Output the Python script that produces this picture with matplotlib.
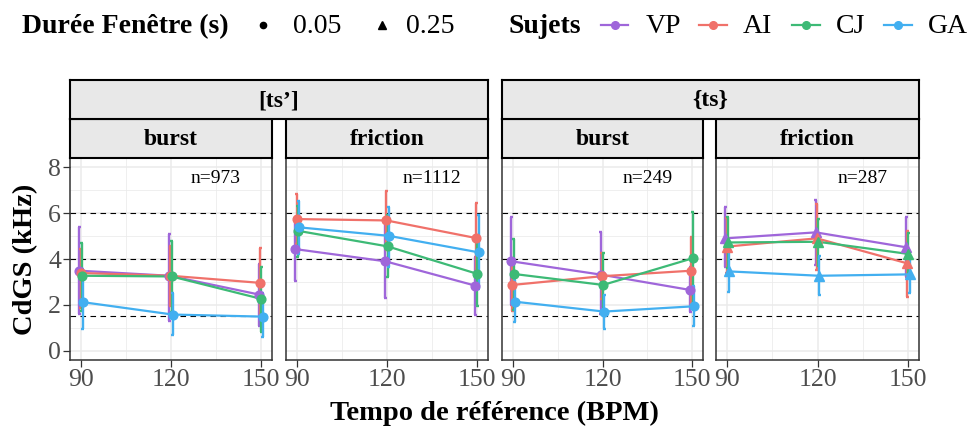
import matplotlib
matplotlib.use("Agg")
import matplotlib.pyplot as plt
from matplotlib.lines import Line2D

plt.rcParams['font.family'] = ['Liberation Serif', 'DejaVu Serif']

W, H = 973, 429

# ---------------- data ----------------
tempo = [90, 120, 150]
subjects = ["VP", "AI", "CJ", "GA"]
subject_colors = ["#9F66DA", "#F0716A", "#3DBA76", "#42AFF0"]
phonemes = ["[ts’]", "{ts}"]
positions = ["burst", "friction"]
n_labels = ["n=973", "n=1112", "n=249", "n=287"]
window_labels = ["0.05", "0.25"]
panel_window = ["0.05", "0.05", "0.05", "0.25"]
ref_lines = [1.5, 4, 6]
y_ticks = [0, 2, 4, 6, 8]

# rows: VP, AI, CJ, GA ; columns: 90, 120, 150 BPM
mean_tsp_burst = [[3.49, 3.27, 2.45], [3.39, 3.27, 2.96], [3.27, 3.24, 2.26], [2.12, 1.58, 1.49]]
high_tsp_burst = [[5.41, 5.09, 3.78], [4.45, 4.58, 4.46], [4.68, 4.80, 3.64], [3.55, 2.52, 2.50]]
low_tsp_burst = [[1.61, 1.32, 1.10], [1.85, 1.97, 1.47], [1.75, 1.68, 0.84], [0.93, 0.67, 0.59]]

mean_tsp_fric = [[4.43, 3.90, 2.84], [5.74, 5.68, 4.91], [5.23, 4.55, 3.35], [5.38, 5.01, 4.29]]
high_tsp_fric = [[5.80, 5.50, 4.10], [6.83, 6.97, 6.43], [6.30, 5.90, 4.80], [6.54, 6.25, 5.91]]
low_tsp_fric = [[3.03, 2.29, 1.54], [4.65, 4.40, 3.40], [4.10, 3.23, 1.94], [4.22, 3.64, 2.70]]

mean_ts_burst = [[3.90, 3.32, 2.65], [2.87, 3.25, 3.49], [3.35, 2.87, 4.03], [2.14, 1.71, 1.94]]
high_ts_burst = [[5.81, 5.16, 3.64], [4.00, 4.26, 4.97], [4.87, 4.26, 6.03], [3.09, 2.43, 2.84]]
low_ts_burst = [[2.00, 1.60, 1.68], [1.75, 2.26, 2.00], [1.80, 1.90, 2.00], [1.25, 0.96, 1.06]]

mean_ts_fric = [[4.90, 5.16, 4.51], [4.54, 4.90, 3.81], [4.72, 4.75, 4.22], [3.46, 3.27, 3.33]]
high_ts_fric = [[6.25, 6.58, 5.81], [5.80, 6.39, 5.23], [5.81, 5.74, 5.13], [4.43, 4.14, 4.14]]
low_ts_fric = [[3.64, 3.74, 3.20], [3.40, 3.50, 2.36], [3.60, 3.70, 3.30], [2.55, 2.41, 2.52]]

panel_data = [
    (mean_tsp_burst, low_tsp_burst, high_tsp_burst),
    (mean_tsp_fric, low_tsp_fric, high_tsp_fric),
    (mean_ts_burst, low_ts_burst, high_ts_burst),
    (mean_ts_fric, low_ts_fric, high_ts_fric),
]

# ---------------- layout ----------------
fig = plt.figure(figsize=(W / 100, H / 100), dpi=100)


def box(x0, y0, x1, y1):
    return [x0 / W, 1 - y1 / H, (x1 - x0) / W, (y1 - y0) / H]


panel_x = [(70, 272), (286, 488), (502, 703), (716, 919)]
p_top, p_bot = 158, 360
inner_top = 119
outer_top = 80
outer_x = [(70, 488), (502, 919)]

marker_for = {"0.05": "o", "0.25": "^"}
dodge = [-0.56, -0.19, 0.19, 0.56]
grey20 = "#333333"
grid_col = "#EBEBEB"
strip_fill = "#E8E8E8"

for i, (x0, x1) in enumerate(panel_x):
    ax = fig.add_axes(box(x0, p_top, x1, p_bot))
    ax.set_xlim(86.3, 153.7)
    ax.set_ylim(-0.4, 8.4)
    ax.set_xticks(tempo)
    ax.set_xticks([105, 135], minor=True)
    ax.set_yticks(y_ticks)
    ax.set_yticks([1, 3, 5, 7], minor=True)
    ax.grid(True, which="major", color=grid_col, lw=1.1, zorder=0)
    ax.grid(True, which="minor", color=grid_col, lw=0.55, zorder=0)
    ax.set_axisbelow(True)
    for s in ax.spines.values():
        s.set_color(grey20)
        s.set_linewidth(1.1)
    ax.tick_params(which="major", length=5, width=0.9, color=grey20,
                   labelsize=18.5, labelcolor="#4D4D4D", pad=1.5)
    ax.tick_params(which="minor", length=0)
    if i != 0:
        ax.tick_params(axis="y", which="both", left=False, labelleft=False)

    for y in ref_lines:
        ax.axhline(y, color="black", lw=0.8, dashes=(5, 4), zorder=1)

    mean, low, high = panel_data[i]
    mk = marker_for[panel_window[i]]
    ms = 6.3 if mk == "o" else 7.0
    for k, subj in enumerate(subjects):
        xs = [t + dodge[k] for t in tempo]
        c = subject_colors[k]
        ax.vlines(xs, low[k], high[k], color=c, lw=1.7, zorder=3)
        for xx, lo, hi in zip(xs, low[k], high[k]):
            ax.plot([xx - 0.5, xx + 0.5], [lo, lo], color=c, lw=1.7, zorder=3, solid_capstyle="butt")
            ax.plot([xx - 0.5, xx + 0.5], [hi, hi], color=c, lw=1.7, zorder=3, solid_capstyle="butt")
        ax.plot(xs, mean[k], color=c, lw=1.6, zorder=4)
        ax.plot(xs, mean[k], ls="none", marker=mk, ms=ms, color=c, mec=c, zorder=5)

    ax.text(135, 7.5, n_labels[i], ha="center", va="center", fontsize=14, color="black")

    # inner strip
    sax = fig.add_axes(box(x0, inner_top, x1, p_top))
    sax.set_facecolor(strip_fill)
    sax.set_xticks([]); sax.set_yticks([])
    for s in sax.spines.values():
        s.set_color("black"); s.set_linewidth(1.5)
    sax.text(0.5, 0.47, positions[i % 2], ha="center", va="center",
             fontsize=17, fontweight="bold", transform=sax.transAxes)

for j, (x0, x1) in enumerate(outer_x):
    sax = fig.add_axes(box(x0, outer_top, x1, inner_top))
    sax.set_facecolor(strip_fill)
    sax.set_xticks([]); sax.set_yticks([])
    for s in sax.spines.values():
        s.set_color("black"); s.set_linewidth(1.5)
    sax.text(0.5, 0.47, phonemes[j], ha="center", va="center",
             fontsize=17, fontweight="bold", transform=sax.transAxes)

# axis titles
fig.text((70 + 919) / 2 / W, 1 - 413 / H, "Tempo de référence (BPM)", ha="center", va="center",
         fontsize=20.5, fontweight="bold")
fig.text(26 / W, 1 - 259 / H, "CdGS (kHz)", ha="center", va="center", rotation=90,
         fontsize=20.5, fontweight="bold")

# ---------------- legends ----------------
base_y = 1 - 33 / H
key_y = 1 - 25 / H
LFS = 20
fig.text(22 / W, base_y, "Durée Fenêtre (s)", ha="left", va="baseline", fontsize=LFS, fontweight="bold")
fig.add_artist(Line2D([263 / W], [key_y], marker="o", ms=4.5, color="black", ls="none",
                      transform=fig.transFigure))
fig.text(293 / W, base_y, window_labels[0], ha="left", va="baseline", fontsize=LFS)
fig.add_artist(Line2D([382 / W], [key_y], marker="^", ms=5.5, color="black", ls="none",
                      transform=fig.transFigure))
fig.text(406 / W, base_y, window_labels[1], ha="left", va="baseline", fontsize=LFS)

fig.text(509 / W, base_y, "Sujets", ha="left", va="baseline", fontsize=LFS, fontweight="bold")
key_x = [(601, 628, 646), (699, 727, 743), (792, 820, 836), (884, 912, 928)]
for k, (a, b, t) in enumerate(key_x):
    c = subject_colors[k]
    fig.add_artist(Line2D([a / W, b / W], [key_y, key_y], color=c, lw=1.6, transform=fig.transFigure))
    fig.add_artist(Line2D([(a + b) / 2 / W], [key_y], marker="o", ms=5.5, color=c, ls="none",
                          transform=fig.transFigure))
    fig.text(t / W, base_y, subjects[k], ha="left", va="baseline", fontsize=LFS)

fig.savefig("out.png", dpi=100)
